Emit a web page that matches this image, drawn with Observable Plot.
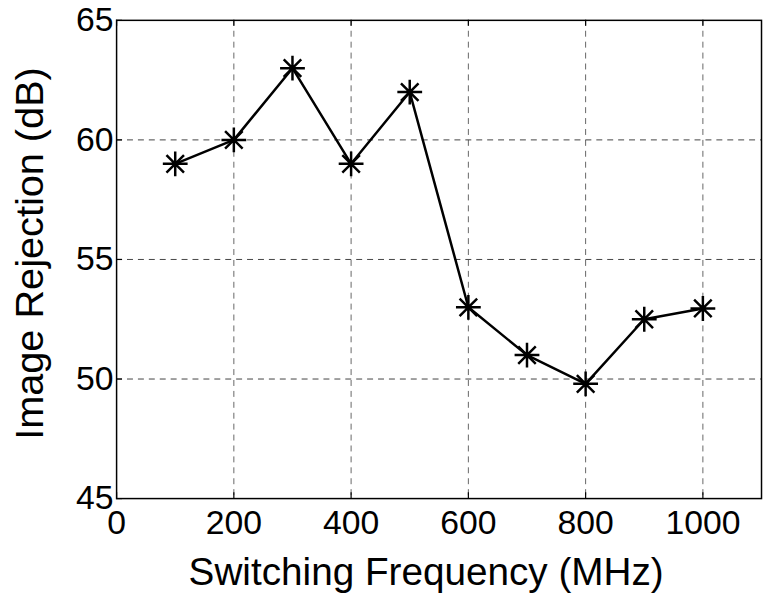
<!DOCTYPE html>
<html>
<head>
<meta charset="utf-8">
<script src="https://cdn.jsdelivr.net/npm/d3@7"></script>
<script src="https://cdn.jsdelivr.net/npm/@observablehq/plot@0.6"></script>
<style>
  html, body { margin: 0; padding: 0; background: #fff; overflow: hidden; }
  #chart { width: 764px; height: 606px; overflow: hidden; }
</style>
</head>
<body>
<div id="chart"></div>
<script>
const freqs = [100, 200, 300, 400, 500, 600, 700, 800, 900, 1000];
const rejection = [59, 60, 63, 59, 62, 53, 51, 49.8, 52.5, 52.95];
const xTicks = [0, 200, 400, 600, 800, 1000];
const yTicks = [45, 50, 55, 60, 65];
const xLabel = "Switching Frequency (MHz)";
const yLabel = "Image Rejection (dB)";

const data = freqs.map((f, i) => ({f, v: rejection[i]}));

const asterisk = {
  draw(ctx, size) {
    const r = Math.sqrt(size / Math.PI);
    const d = r * Math.SQRT1_2;
    ctx.moveTo(-r, 0); ctx.lineTo(r, 0);
    ctx.moveTo(0, -r); ctx.lineTo(0, r);
    ctx.moveTo(-d, -d); ctx.lineTo(d, d);
    ctx.moveTo(-d, d); ctx.lineTo(d, -d);
  }
};

const frameH = 482;
const chart = Plot.plot({
  width: 770,
  height: 606,
  marginLeft: 117,
  marginRight: 3,
  marginTop: 20,
  marginBottom: 104,
  style: {fontFamily: "'Liberation Sans', Arial, sans-serif", background: "#fff", color: "#000"},
  x: {domain: [0, 1100]},
  y: {domain: [45, 65]},
  marks: [
    Plot.gridX(xTicks.slice(1), {stroke: "#666", strokeOpacity: 1, strokeWidth: 1, strokeDasharray: "6,5"}),
    Plot.gridY(yTicks.slice(1, -1), {stroke: "#444", strokeOpacity: 1, strokeWidth: 1, strokeDasharray: "6,5"}),
    Plot.ruleX(xTicks, {stroke: "#000", strokeWidth: 1.2, insetTop: frameH - 6}),
    Plot.ruleX(xTicks, {stroke: "#000", strokeWidth: 1.2, insetBottom: frameH - 6}),
    Plot.ruleY(yTicks, {stroke: "#000", strokeWidth: 1.2, insetRight: 644}),
    Plot.frame({stroke: "#000", strokeWidth: 1.5}),
    Plot.line(data, {x: "f", y: "v", stroke: "#000", strokeWidth: 2.5}),
    Plot.dot(data, {x: "f", y: "v", symbol: asterisk, r: 12.5, stroke: "#000", fill: "none", strokeWidth: 2.5}),
    Plot.axisX(xTicks, {tickSize: 0, tickPadding: 12, fontSize: 34, label: null, tickFormat: d3.format("d")}),
    Plot.axisY(yTicks, {tickSize: 0, tickPadding: 3, fontSize: 34, label: null, tickFormat: d3.format("d")}),
    Plot.text([xLabel], {frameAnchor: "bottom", dy: 87, dx: -13, fontSize: 39, fill: "#000", lineAnchor: "bottom"}),
    Plot.text([yLabel], {frameAnchor: "left", rotate: -90, textAnchor: "middle", dx: -74, dy: -6, fontSize: 40, fill: "#000", lineAnchor: "bottom"})
  ]
});
document.getElementById("chart").appendChild(chart);
</script>
</body>
</html>
